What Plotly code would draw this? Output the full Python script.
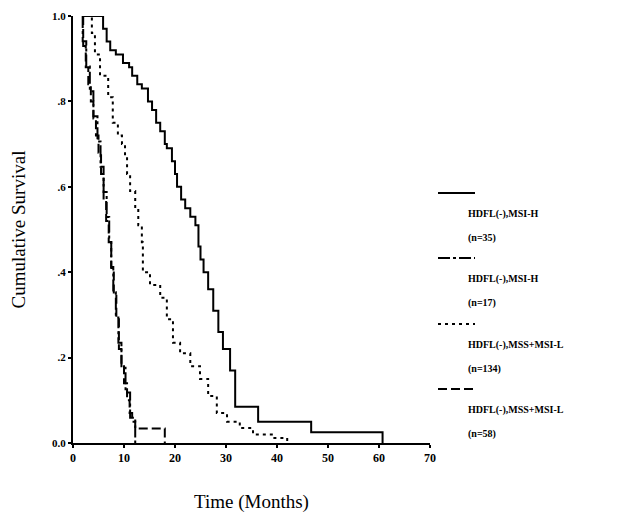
import plotly.graph_objects as go

# ---- data ----
t_msih35 = [2, 5.9, 6.6, 7.3, 8.4, 9.8, 11.0, 11.6, 12.6, 13.5, 14.7, 15.5, 16.3, 17.1, 18.0, 18.4,
            19.4, 20.0, 20.4, 21.2, 22.0, 23.0, 24.0, 24.6, 25.0, 25.6, 26.5, 27.5, 28.5, 29.4,
            30.8, 31.8, 36.3, 46.7, 60.7]
s_msih35 = [1, .97, .94, .92, .91, .89, .88, .86, .84, .83, .80, .78, .75, .73, .70, .69,
            .66, .63, .60, .57, .55, .53, .51, .46, .43, .40, .36, .31, .26, .22,
            .17, .085, .05, .025, 0]

t_msih17 = [1.9, 1.9, 2.6, 3.3, 4.0, 4.8, 5.4, 6.0, 6.6, 7.1, 7.5, 7.9, 8.4, 8.9, 9.5, 10.3, 11.2, 12.2]
s_msih17 = [1, .941, .882, .824, .765, .706, .647, .588, .529, .471, .412, .353, .294, .235, .176, .118, .059, 0]

t_mss134 = [2.6, 3.7, 4.3, 5.3, 6.9, 7.8, 8.8, 9.6, 10.2, 10.6, 11.2, 12.2, 12.8, 13.5, 13.7, 15.1,
            17.1, 18.4, 19.6, 21.0, 23.0, 24.9, 26.5, 28.2, 30.2, 32.7, 35.3, 39.2, 42.0]
s_mss134 = [1, .96, .91, .86, .81, .75, .72, .70, .67, .63, .59, .55, .51, .47, .40, .37,
            .34, .29, .235, .21, .18, .15, .11, .07, .05, .035, .02, .012, 0]

t_mss58 = [2.0, 2.0, 2.5, 3.0, 3.5, 4.0, 4.5, 5.0, 5.5, 6.0, 6.5, 7.0, 7.5, 8.0, 8.5, 9.0, 9.5,
           10.0, 10.6, 11.1, 11.6, 12.2, 18.0]
s_mss58 = [1, .93, .88, .84, .80, .76, .72, .68, .63, .57, .52, .47, .41, .35, .29, .22, .18,
           .14, .10, .07, .05, .034, 0]

x_ticks = [0, 10, 20, 30, 40, 50, 60, 70]
y_ticks = [0, .2, .4, .6, .8, 1.0]
y_tick_text = ["0.0", ".2", ".4", ".6", ".8", "1.0"]

legend_names = ["HDFL(-),MSI-H", "HDFL(-),MSI-H", "HDFL(-),MSS+MSI-L", "HDFL(-),MSS+MSI-L"]
legend_n = ["(n=35)", "(n=17)", "(n=134)", "(n=58)"]

FONT = "Liberation Serif"
dashes = ["solid", "12px,3px,3px,3px", "3px,4px", "9px,4px"]
series = [(t_msih35, s_msih35), (t_msih17, s_msih17), (t_mss134, s_mss134), (t_mss58, s_mss58)]

fig = go.Figure()
for (t, s), d, nm in zip(series, dashes, legend_names):
    fig.add_trace(go.Scatter(x=t, y=s, mode="lines", line_shape="hv",
                             line=dict(color="black", width=2, dash=d),
                             name=nm, showlegend=False, cliponaxis=False))

# custom legend (line sample above two text lines); page has an 8px body offset
W, H = 619, 525
OFF = 8
L, R, T, B = 73, 430, 16, 443
px = lambda x: (x - L) / (R - L)
py = lambda y: (B - y) / (B - T)
leg_font = dict(family=FONT, size=10, color="black", weight="bold")
leg_y = [193, 258, 324, 389]
for i, y in enumerate(leg_y):
    fig.add_shape(type="line", xref="paper", yref="paper",
                  x0=px(438), x1=px(475), y0=py(y), y1=py(y),
                  line=dict(color="black", width=2, dash=dashes[i]))
    fig.add_annotation(xref="paper", yref="paper", x=px(466), y=py(y + 21),
                       text=legend_names[i], showarrow=False, xanchor="left", yanchor="middle",
                       font=leg_font)
    fig.add_annotation(xref="paper", yref="paper", x=px(466), y=py(y + 45),
                       text=legend_n[i], showarrow=False, xanchor="left", yanchor="middle",
                       font=leg_font)

fig.update_layout(
    width=W, height=H,
    margin=dict(l=L - OFF, r=W - R + OFF, t=T - OFF, b=H - B + OFF),
    plot_bgcolor="white", paper_bgcolor="white",
    font=dict(family=FONT, color="black"),
    showlegend=False,
)
fig.update_xaxes(range=[0, 70], tickvals=x_ticks, showgrid=False, zeroline=False, automargin=False,
                 showline=True, linecolor="black", linewidth=2,
                 ticks="outside", ticklen=3, tickwidth=2, tickcolor="black",
                 tickfont=dict(family=FONT, size=12, color="black", weight="bold"),
                 title=dict(text="Time (Months)",
                            font=dict(family=FONT, size=19, color="black"),
                            standoff=30))
fig.update_yaxes(range=[0, 1.0], tickvals=y_ticks, ticktext=y_tick_text, showgrid=False,
                 zeroline=False, showline=True, linecolor="black", linewidth=2, automargin=False,
                 ticks="outside", ticklen=3, tickwidth=2, tickcolor="black",
                 tickfont=dict(family=FONT, size=11, color="black", weight="bold"),
                 title=dict(text="Cumulative Survival",
                            font=dict(family=FONT, size=19, color="black"),
                            standoff=22))

fig.write_html("out.html")
